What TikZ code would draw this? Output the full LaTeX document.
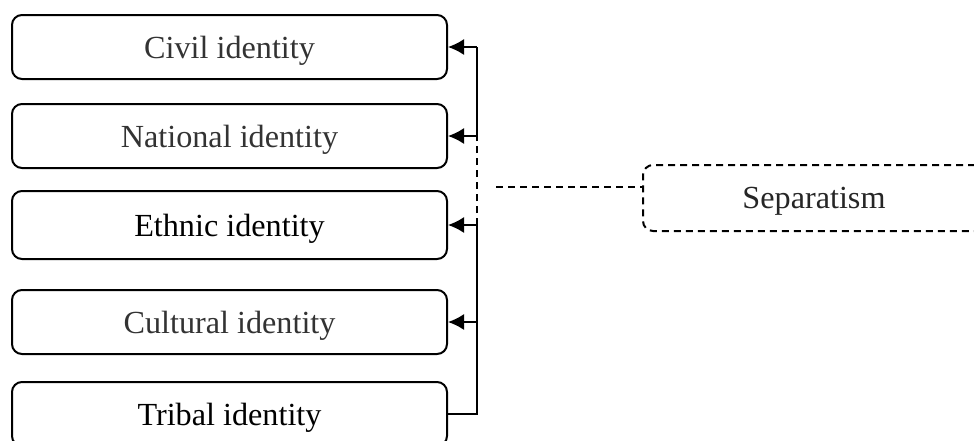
\documentclass[tikz,border=0pt]{standalone}
\usepackage{fontspec}
\setmainfont{Liberation Serif}
\usepackage{tikz}
\usetikzlibrary{calc}
\usetikzlibrary{arrows.meta}
\tikzset{>={Latex[length=8pt,width=8pt]}}
\tikzset{
	idbox/.style={draw=black, line width=1pt, rounded corners=5pt,
		minimum width=217.5pt, minimum height=32pt, inner sep=0pt,
		text depth=0pt, font=\fontsize{16.1}{19}\selectfont},
	sepbox/.style={idbox, dash pattern=on 3.5pt off 2.5pt,
		minimum width=171pt, minimum height=33pt},
	link/.style={line width=0.8pt, dash pattern=on 3.5pt off 2.5pt}
}

\begin{document}
\begin{tikzpicture}[x=0.5pt, y=-0.5pt]

	\pgfmathsetmacro{\xb}{229.5}
	\pgfmathsetmacro{\xbus}{477}

	% Frame
	\useasboundingbox (0,0) rectangle (974,440);
	\clip (0,0) rectangle (974,440);

	%% Identities
	\node[idbox, text=black!80] (civil) at (\xb,47) {Civil identity};
	\node[idbox, text=black!80] (national) at (\xb,136) {National identity};
	\node[idbox, minimum height=34pt] (ethnic) at (\xb,225) {Ethnic identity};
	\node[idbox, text=black!80] (cultural) at (\xb,322) {Cultural identity};
	\node[idbox] (tribal) at (\xb,414) {Tribal identity};

	%% Separatism
	\node[sepbox, text=black!85] (sep) at (814,198) {Separatism};

	\coordinate[](bus) at (\xbus,0);
	\coordinate[](lk) at (496,187);

	% Bus
	\begin{scope}[line width=0.8pt]
	\draw (tribal.east) -- (tribal.east -| bus) -- (ethnic.east -| bus);
	\draw[link] (ethnic.east -| bus) -- (national.east -| bus);
	\draw (national.east -| bus) -- (civil.east -| bus);
	\foreach \n in {civil,national,ethnic,cultural}
	{
	\draw[->] (\n.east -| bus) -- (\n.east);
	}
	\end{scope}

	% Link
	\draw[link] (lk) -- (lk -| sep.west);

\end{tikzpicture}
\end{document}
